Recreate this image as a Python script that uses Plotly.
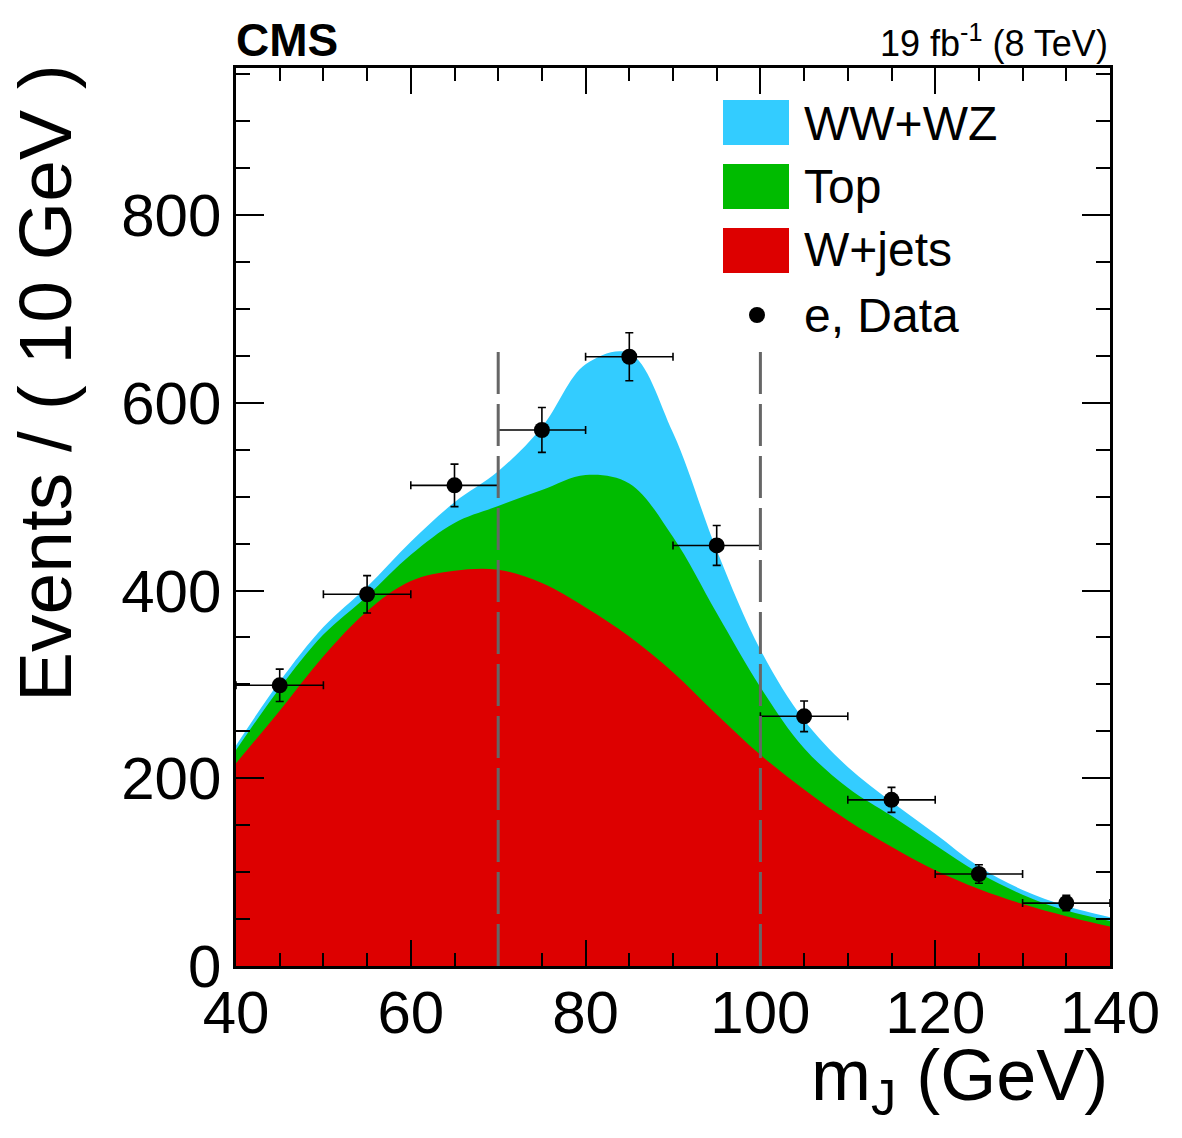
import plotly.graph_objects as go
import numpy as np

# ---------------- data ----------------
mass = [40, 45, 50, 55, 60, 65, 70, 75, 80, 85, 90, 95, 100, 105, 110, 115, 120, 125, 130, 135, 140]
wjets = [216, 272, 330, 378, 410, 421, 422, 408, 382, 351, 313, 268, 225, 188, 155, 127, 102, 82, 66, 53, 42]
top = [14, 24, 23, 16, 28, 51, 68, 99, 141, 163, 144, 108, 72, 44, 35, 33, 27, 17, 10, 6, 6]
wwwz = [5, 7, 8, 10, 14, 22, 37, 67, 118, 139, 111, 67, 40, 30, 22, 15, 12, 7, 5, 5, 4]

data_x = [45, 55, 65, 75, 85, 95, 105, 115, 125, 135]
data_y = [299, 396, 512, 571, 649, 448, 266, 177, 98, 67]
data_err = [17.3, 19.9, 22.6, 23.9, 25.5, 21.2, 16.3, 13.3, 9.9, 8.2]
bin_half = [5, 5, 5, 5, 5, 5, 5, 5, 5, 5]

window = [70, 100]
window_top = 654

legend_labels = ["WW+WZ", "Top", "W+jets", "e, Data"]
colors = {"WW+WZ": "#33CCFF", "Top": "#00BB00", "W+jets": "#DD0000"}

# ---------------- figure ----------------
W, H = 1182, 1138
L, R, T, B = 236, 72, 68, 172
pw, ph = W - L - R, H - T - B
YMAX = 956.6
FONT = "Liberation Sans, Arial, Helvetica, sans-serif"

lvl1 = np.array(wjets, dtype=float)
lvl2 = lvl1 + np.array(top, dtype=float)
lvl3 = lvl2 + np.array(wwwz, dtype=float)

fig = go.Figure()
for name, lvl in [("WW+WZ", lvl3), ("Top", lvl2), ("W+jets", lvl1)]:
    fig.add_trace(go.Scatter(
        x=mass, y=lvl, mode="lines", name=name,
        line=dict(width=0, shape="spline", smoothing=1.0, color=colors[name]),
        fill="tozeroy", fillcolor=colors[name], showlegend=False, hoverinfo="skip"))

fig.add_trace(go.Scatter(
    x=data_x, y=data_y, mode="markers", name="e, Data",
    marker=dict(color="black", size=16),
    error_y=dict(type="data", array=data_err, color="black", thickness=1.6, width=4),
    error_x=dict(type="data", array=bin_half, color="black", thickness=1.6, width=4),
    showlegend=False))

shapes = []
for xv in window:
    shapes.append(dict(type="line", xref="x", yref="y", x0=xv, x1=xv, y0=0, y1=window_top,
                       line=dict(color="#666666", width=3, dash="42px,10px"), layer="above"))


def px_x(p):
    return (p - L) / pw


def px_y(p):
    return (H - B - p) / ph


# legend boxes drawn by hand
box_tops = [100, 164, 228]
for lab, yt in zip(legend_labels[:3], box_tops):
    shapes.append(dict(type="rect", xref="paper", yref="paper",
                       x0=px_x(723), x1=px_x(789), y0=px_y(yt + 45), y1=px_y(yt),
                       fillcolor=colors[lab], line=dict(width=0)))
shapes.append(dict(type="circle", xref="paper", yref="paper",
                   x0=px_x(757 - 8), x1=px_x(757 + 8), y0=px_y(315 + 8), y1=px_y(315 - 8),
                   fillcolor="black", line=dict(width=0)))

annotations = []
for lab, yc in zip(legend_labels, [123, 186, 250, 315]):
    annotations.append(dict(text=lab, xref="paper", yref="paper", x=px_x(802), y=px_y(yc),
                            xanchor="left", yanchor="middle", showarrow=False,
                            font=dict(family=FONT, size=48, color="black")))

annotations += [
    dict(text="<b>CMS</b>", xref="paper", yref="paper", x=px_x(234), y=px_y(40),
         xanchor="left", yanchor="middle", showarrow=False,
         font=dict(family=FONT, size=46, color="black")),
    dict(text="19 fb<sup>-1</sup> (8 TeV)", xref="paper", yref="paper", x=px_x(1110), y=px_y(41),
         xanchor="right", yanchor="middle", showarrow=False,
         font=dict(family=FONT, size=36, color="black")),
    dict(text="Events / ( 10 GeV )", xref="paper", yref="paper", x=px_x(45), y=px_y(62),
         xanchor="center", yanchor="top", textangle=-90, showarrow=False,
         font=dict(family=FONT, size=75, color="black")),
    dict(text="m<sub>J</sub> (GeV)", xref="paper", yref="paper", x=px_x(1110), y=px_y(1080),
         xanchor="right", yanchor="middle", showarrow=False,
         font=dict(family=FONT, size=72, color="black")),
]

axis_common = dict(showline=True, linecolor="black", linewidth=2.5, mirror="allticks",
                   ticks="inside", tickwidth=2, tickcolor="black", showgrid=False,
                   zeroline=False, tickfont=dict(family=FONT, size=60, color="black"))

fig.update_layout(
    width=W, height=H,
    margin=dict(l=L, r=R, t=T, b=B, pad=0),
    paper_bgcolor="white", plot_bgcolor="white",
    showlegend=False,
    xaxis=dict(range=[40, 140], tick0=40, dtick=20, ticklen=26, ticklabelstandoff=-8,
               minor=dict(dtick=5, tick0=40, ticklen=13, tickwidth=2, ticks="inside", tickcolor="black"),
               **axis_common),
    yaxis=dict(range=[0, YMAX], tick0=0, dtick=200, ticklen=28,
               minor=dict(dtick=50, tick0=0, ticklen=14, tickwidth=2, ticks="inside", tickcolor="black"),
               **axis_common),
    shapes=shapes,
    annotations=annotations,
)

fig.write_html("out.html")
